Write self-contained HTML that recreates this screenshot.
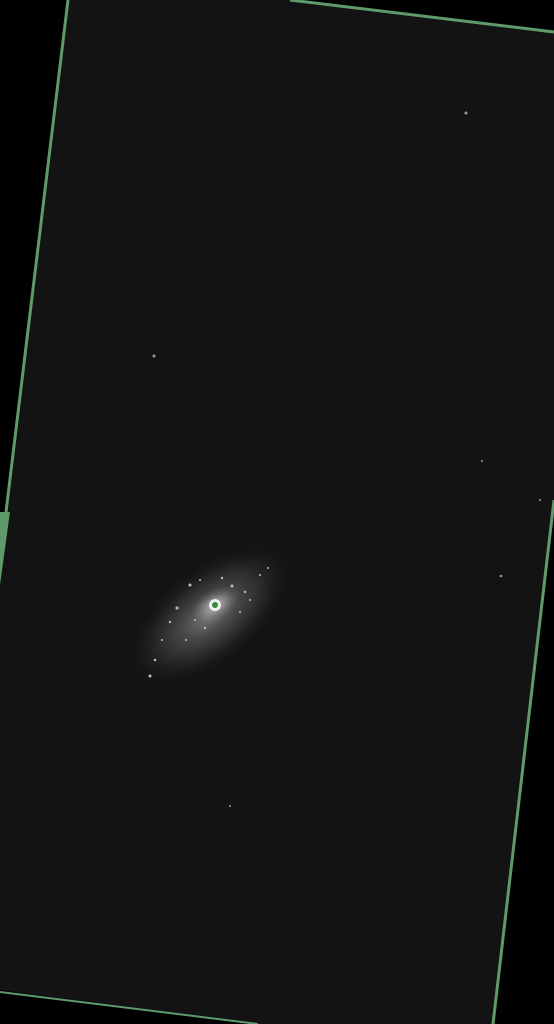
<!DOCTYPE html>
<html><head><meta charset="utf-8"><style>
html,body{margin:0;padding:0;background:#000;width:554px;height:1024px;overflow:hidden}
svg{display:block}
</style></head><body>
<svg width="554" height="1024" viewBox="0 0 554 1024">
<defs>
<radialGradient id="halo" cx="50%" cy="50%" r="50%">
<stop offset="0" stop-color="#7a7a7a"/>
<stop offset="0.3" stop-color="#4a4a4a"/>
<stop offset="0.65" stop-color="#262626"/>
<stop offset="1" stop-color="#131313" stop-opacity="0"/>
</radialGradient>
<radialGradient id="core" cx="50%" cy="50%" r="50%">
<stop offset="0" stop-color="#ffffff"/>
<stop offset="0.4" stop-color="#b0b0b0"/>
<stop offset="1" stop-color="#606060" stop-opacity="0"/>
</radialGradient>
</defs>
<rect width="554" height="1024" fill="#000"/>
<polygon points="68,0 290,0 554,30 554,500 493,1024 258,1024 0,990 0,585 10,512 6,512" fill="#131313"/>
<polyline points="68,0 6,512" fill="none" stroke="#5f9a6a" stroke-width="3"/>
<polygon points="0,512 10,512 0,585" fill="#5f9a6a"/>
<polyline points="290,0 554,32" fill="none" stroke="#5f9a6a" stroke-width="3"/>
<polyline points="554,500 493,1024" fill="none" stroke="#5f9a6a" stroke-width="3"/>
<polyline points="0,992 258,1024" fill="none" stroke="#5f9a6a" stroke-width="2"/>
<g>
<ellipse cx="210" cy="615" rx="100" ry="50" transform="rotate(-38 210 615)" fill="url(#halo)"/>
<ellipse cx="215" cy="605" rx="28" ry="16" transform="rotate(-30 215 605)" fill="url(#core)" opacity="0.5"/>
<circle cx="215" cy="605" r="6" fill="#f0f0f0"/>
<circle cx="215" cy="605" r="3" fill="#2f8a3a"/>
<g fill="#bdbdbd">
<circle cx="190" cy="585" r="1.5"/><circle cx="232" cy="586" r="1.5"/><circle cx="245" cy="592" r="1.2"/>
<circle cx="177" cy="608" r="1.5"/><circle cx="170" cy="622" r="1.2"/><circle cx="155" cy="660" r="1.3"/>
<circle cx="150" cy="676" r="1.5"/><circle cx="260" cy="575" r="1"/><circle cx="205" cy="628" r="1.2"/>
<circle cx="240" cy="612" r="1"/><circle cx="186" cy="640" r="1"/><circle cx="268" cy="568" r="1"/>
<circle cx="200" cy="580" r="1"/><circle cx="222" cy="578" r="1.2"/><circle cx="162" cy="640" r="1"/>
<circle cx="195" cy="620" r="1"/><circle cx="250" cy="600" r="1"/>
</g>
</g>
<g fill="#9a9a9a">
<circle cx="466" cy="113" r="1.5"/><circle cx="154" cy="356" r="1.5"/><circle cx="482" cy="461" r="1"/>
<circle cx="501" cy="576" r="1.3"/><circle cx="540" cy="500" r="1"/><circle cx="230" cy="806" r="1"/>
</g>
</svg>
</body></html>
